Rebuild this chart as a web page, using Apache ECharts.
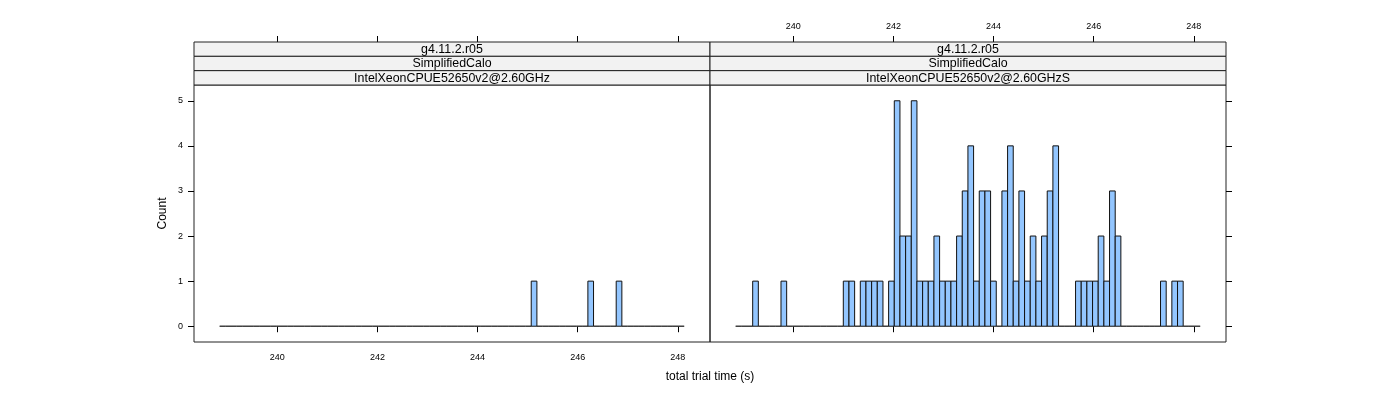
<!DOCTYPE html>
<html>
<head>
<meta charset="utf-8">
<script src="https://cdn.jsdelivr.net/npm/echarts@6/dist/echarts.min.js"></script>
<style>html,body{margin:0;padding:0;background:#fff}#c{width:1400px;height:400px}</style>
</head>
<body>
<div id="c"></div>
<script>
// ---- data ----
const BREAK_START = 238.848;   // left edge of first histogram bin (s)
const BIN_WIDTH = 0.11316;     // bin width (s)
const xTicks = [240, 242, 244, 246, 248];
const yTicks = [0, 1, 2, 3, 4, 5];
const stripTop = "g4.11.2.r05";
const stripMid = "SimplifiedCalo";
const panelNames = ["IntelXeonCPUE52650v2@2.60GHz", "IntelXeonCPUE52650v2@2.60GHzS"];
const leftCounts = [
  0,0,0,0,0,0,0,0,0,0,
  0,0,0,0,0,0,0,0,0,0,
  0,0,0,0,0,0,0,0,0,0,
  0,0,0,0,0,0,0,0,0,0,
  0,0,0,0,0,0,0,0,0,0,
  0,0,0,0,0,1,0,0,0,0,
  0,0,0,0,0,1,0,0,0,0,
  1,0,0,0,0,0,0,0,0,0,
  0,0
];
const rightCounts = [
  0,0,0,1,0,0,0,0,1,0,
  0,0,0,0,0,0,0,0,0,1,
  1,0,1,1,1,1,0,1,5,2,
  2,5,1,1,1,2,1,1,1,2,
  3,4,1,3,3,1,0,3,4,1,
  3,1,2,1,2,3,4,0,0,0,
  1,1,1,1,2,1,3,2,0,0,
  0,0,0,0,0,1,0,1,1,0,
  0,0
];
const xLabel = "total trial time (s)";
const yLabel = "Count";

// ---- build ----
function binData(counts) {
  return counts.map((c, i) => [BREAK_START + i * BIN_WIDTH, BREAK_START + (i + 1) * BIN_WIDTH, c]);
}
const X_MIN = 238.335, X_MAX = 248.643, Y_MIN = -0.35, Y_MAX = 5.35;
const FONT = "'Liberation Sans', Arial, Helvetica, sans-serif";
const BAR_FILL = '#93C6FF';

function renderItem(params, api) {
  const x0 = api.value(0), x1 = api.value(1), c = api.value(2);
  const p0 = api.coord([x0, c]);
  const p1 = api.coord([x1, 0]);
  return {
    type: 'rect',
    shape: { x: p0[0], y: p0[1], width: p1[0] - p0[0], height: p1[1] - p0[1] },
    style: { fill: BAR_FILL, stroke: c === 0 ? '#333' : '#111', lineWidth: 1 }
  };
}

const grids = [
  { left: 194, top: 85, width: 516, height: 257 },
  { left: 710, top: 85, width: 516, height: 257 }
];

function xAxisDef(gridIndex, position, labels, offset) {
  return {
    type: 'value', gridIndex, position, offset: offset || 0,
    min: X_MIN, max: X_MAX,
    splitLine: { show: false },
    axisLine: { show: false },
    axisTick: { show: true, length: 6, lineStyle: { color: '#000', width: 1 }, customValues: xTicks },
    axisLabel: { show: labels, customValues: xTicks, fontSize: 9, color: '#000', fontFamily: FONT, margin: 11 }
  };
}

const option = {
  animation: false,
  backgroundColor: '#fff',
  grid: grids.map(g => Object.assign({ show: true, borderColor: '#222', borderWidth: 1, backgroundColor: 'transparent' }, g)),
  xAxis: [
    xAxisDef(0, 'bottom', true, 0),
    xAxisDef(0, 'top', false, 43),
    xAxisDef(1, 'bottom', false, 0),
    xAxisDef(1, 'top', true, 43)
  ],
  yAxis: [
    {
      type: 'value', gridIndex: 0, position: 'left', min: Y_MIN, max: Y_MAX,
      splitLine: { show: false }, axisLine: { show: false },
      axisTick: { show: true, length: 6, lineStyle: { color: '#000' }, customValues: yTicks },
      axisLabel: { customValues: yTicks, fontSize: 9, color: '#000', fontFamily: FONT, margin: 11 },
      name: yLabel, nameLocation: 'middle', nameGap: 25, nameRotate: 90,
      nameTextStyle: { fontSize: 12, color: '#000', fontFamily: FONT }
    },
    {
      type: 'value', gridIndex: 1, position: 'right', min: Y_MIN, max: Y_MAX,
      splitLine: { show: false }, axisLine: { show: false },
      axisTick: { show: true, length: 6, lineStyle: { color: '#000' }, customValues: yTicks },
      axisLabel: { show: false }
    }
  ],
  series: [
    { type: 'custom', xAxisIndex: 0, yAxisIndex: 0, renderItem, encode: { x: [0, 1], y: 2 }, data: binData(leftCounts) },
    { type: 'custom', xAxisIndex: 2, yAxisIndex: 1, renderItem, encode: { x: [0, 1], y: 2 }, data: binData(rightCounts) }
  ],
  graphic: []
};

// strips
const stripY = [42, 56.33, 70.67];
const stripH = 14.33;
grids.forEach((g, pi) => {
  const texts = [stripTop, stripMid, panelNames[pi]];
  texts.forEach((t, si) => {
    option.graphic.push({
      type: 'rect', z: 10,
      shape: { x: g.left, y: stripY[si], width: g.width, height: stripH },
      style: { fill: '#F2F2F2', stroke: '#222', lineWidth: 1 }
    });
    option.graphic.push({
      type: 'text', z: 11,
      x: g.left + g.width / 2, y: stripY[si] + stripH / 2 + 0.5,
      style: { text: t, fontSize: 12.4, fontFamily: FONT, fill: '#000', align: 'center', verticalAlign: 'middle' }
    });
  });
});
option.graphic.push({
  type: 'text', x: 710, y: 377,
  style: { text: xLabel, fontSize: 12, fontFamily: FONT, fill: '#000', align: 'center', verticalAlign: 'middle' }
});

const chart = echarts.init(document.getElementById('c'), null, { renderer: 'canvas' });
chart.setOption(option);
</script>
</body>
</html>
